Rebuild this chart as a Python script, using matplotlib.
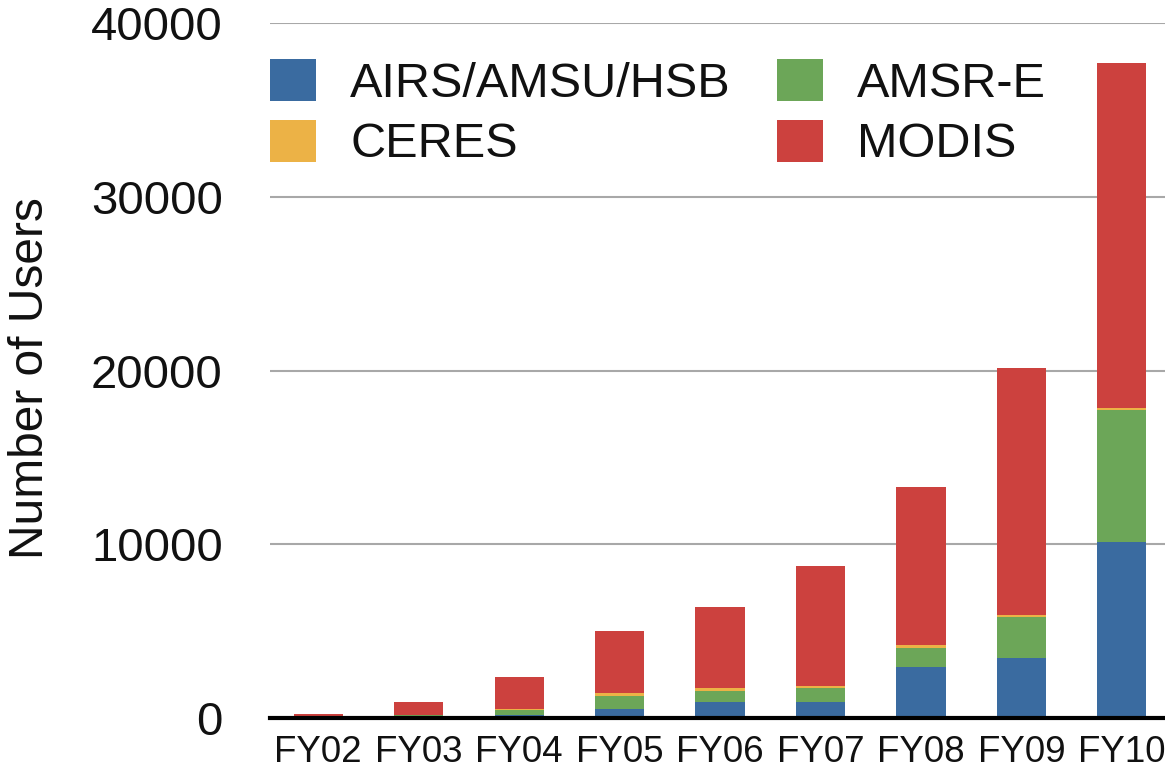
import matplotlib
matplotlib.use("Agg")
import matplotlib.pyplot as plt
import numpy as np

# ---------------------------------------------------------------------------
# Data
# ---------------------------------------------------------------------------
years = ["FY02", "FY03", "FY04", "FY05", "FY06", "FY07", "FY08", "FY09", "FY10"]
airs = [20, 50, 170, 520, 920, 920, 2940, 3450, 10130]
amsre = [30, 120, 290, 750, 630, 810, 1090, 2360, 7600]
ceres = [10, 20, 40, 170, 180, 110, 170, 120, 110]
modis = [150, 730, 1860, 3560, 4660, 6910, 9090, 14210, 19860]

series = [
    ("AIRS/AMSU/HSB", airs, "#3A6BA0"),
    ("AMSR-E", amsre, "#6CA658"),
    ("CERES", ceres, "#ECB246"),
    ("MODIS", modis, "#CC413E"),
]

plt.rcParams["font.family"] = ["Liberation Sans", "DejaVu Sans"]
TEXT = "#111111"

fig = plt.figure(figsize=(11.65, 7.77), dpi=100)
ax = fig.add_axes([0.2318, 0.0759, 0.7682, 0.8945])

x = np.arange(len(years))
bottom = np.zeros(len(years))
bars = {}
for name, vals, color in series:
    bars[name] = ax.bar(x, vals, width=0.49, bottom=bottom, color=color,
                        edgecolor="none", zorder=3)
    bottom += np.array(vals)

ax.set_xlim(-0.48, 8.43)
ax.set_ylim(0, 40000)
ax.set_yticks([0, 10000, 20000, 30000, 40000])
ax.set_xticks(x)
ax.set_xticklabels(years)

ax.yaxis.grid(True, color="#a8a8a8", linewidth=1.5, zorder=0)
ax.set_axisbelow(True)
for side in ["top", "right", "left"]:
    ax.spines[side].set_visible(False)
ax.spines["bottom"].set_color("black")
ax.spines["bottom"].set_linewidth(3)
ax.spines["bottom"].set_zorder(4)

ax.tick_params(axis="y", length=0, pad=34, labelsize=34, labelcolor=TEXT)
ax.tick_params(axis="x", length=0, pad=12, labelsize=26.5, labelcolor=TEXT)

fig.text(31 / 1165, 1 - 378 / 777, "Number of Users", rotation=90,
         ha="center", va="center", fontsize=34.5, color=TEXT)

# legend: column-wise fill, so order AIRS, CERES | AMSR-E, MODIS
handles = [bars["AIRS/AMSU/HSB"], bars["CERES"], bars["AMSR-E"], bars["MODIS"]]
labels = ["AIRS/AMSU/HSB", "CERES", "AMSR-E", "MODIS"]
ax.legend(handles, labels, ncol=2, frameon=False, fontsize=35,
          loc="upper left", bbox_to_anchor=(270 / 1165, 1 - 59 / 777),
          bbox_transform=fig.transFigure, borderaxespad=0, borderpad=0,
          handlelength=0.95, handleheight=0.95, handletextpad=0.7,
          labelspacing=0.27, columnspacing=0.95, labelcolor=TEXT)

fig.savefig("out.png", dpi=100)
